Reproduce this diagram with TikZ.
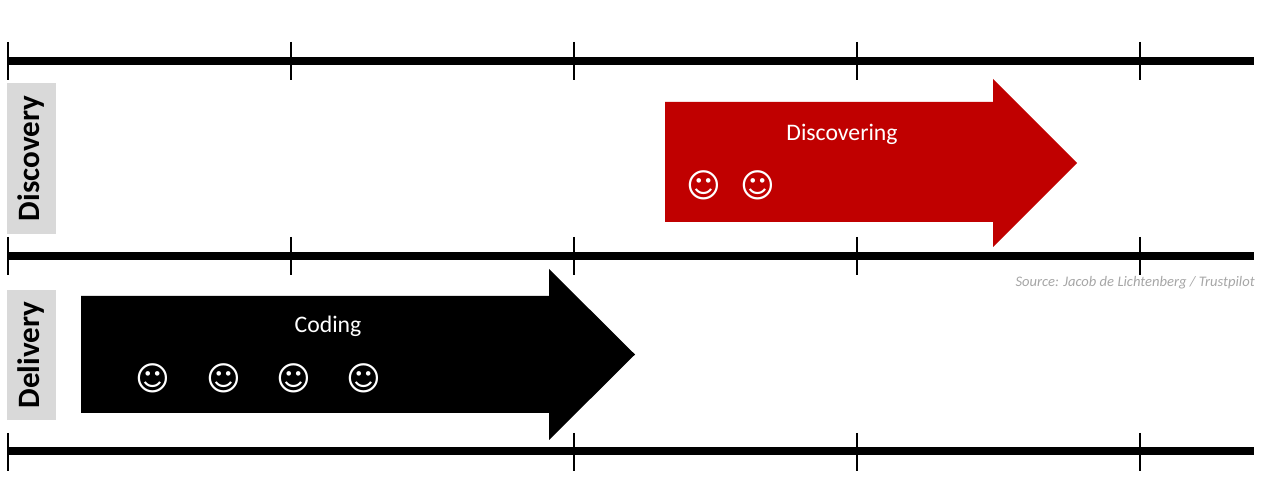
\documentclass[tikz,border=0pt]{standalone}
\usepackage{fontspec}
\setmainfont{Carlito}
\newfontfamily\smileyfont{DejaVu Sans}
\definecolor{discred}{HTML}{C00000}
\definecolor{lanegray}{HTML}{D9D9D9}
\definecolor{sourcegray}{HTML}{A6A6A6}

\begin{document}
\begin{tikzpicture}[x=0.02cm,y=-0.02cm,
		 timeline/.style={line width=4.6pt},
		 tickmark/.style={line width=1.6pt},
		 lanelabel/.style={rotate=90,font=\fontsize{17.7}{20}\selectfont\bfseries},
		 phasetext/.style={text=white,font=\fontsize{13.5}{16}\selectfont},
		 smiley/.style={text=white,font=\smileyfont\bfseries\fontsize{19}{22}\selectfont,inner sep=0pt},
		 source/.style={text=sourcegray,font=\fontsize{8.3}{10}\selectfont\itshape,anchor=east,inner sep=0pt}]
		 %\draw[help lines] (0,0) grid (1280,492);
		 \useasboundingbox (0,0) rectangle (1280,492);
		 
		 % time lines
		 \draw[timeline] (7,61) -- (1254,61);
		 \draw[timeline] (7,256) -- (1254,256);
		 \draw[timeline] (7,451) -- (1254,451);
		 \foreach \x in {8,291,574,857,1140}{
		 	\draw[tickmark] (\x,42) -- (\x,80);
		 	\draw[tickmark] (\x,237) -- (\x,275);
		 }
		 \foreach \x in {8,574,857,1140}
		 	\draw[tickmark] (\x,433) -- (\x,471);
		 
		 % lanes
		 \fill[lanegray] (7,83) rectangle (56,234);
		 \node[lanelabel] (discovery) at (31.5,158.5) {Discovery};
		 \fill[lanegray] (7,290) rectangle (56,420);
		 \node[lanelabel] (delivery) at (31.5,355) {Delivery};
		 
		 % arrows
		 \fill[discred] (665,102) -- (993,102) -- (993,79) -- (1077,163)
		 	-- (993,247) -- (993,222) -- (665,222) -- cycle;
		 \fill[black] (81,296) -- (549,296) -- (549,269) -- (635,354.5)
		 	-- (549,440) -- (549,413) -- (81,413) -- cycle;
		 
		 \node[phasetext] (discovering) at (842,134) {Discovering};
		 \foreach \x [count=\i] in {704,758}
		 	\node[smiley] (discsmile\i) at (\x,185) {☺};
		 
		 \node[phasetext] (coding) at (328,326) {Coding};
		 \foreach \x [count=\i] in {153,224,294,364}
		 	\node[smiley] (codesmile\i) at (\x,378) {☺};
		 
		 \node[source] (sourcenote) at (1255,283) {Source: Jacob de Lichtenberg / Trustpilot};
\end{tikzpicture}
\end{document}
